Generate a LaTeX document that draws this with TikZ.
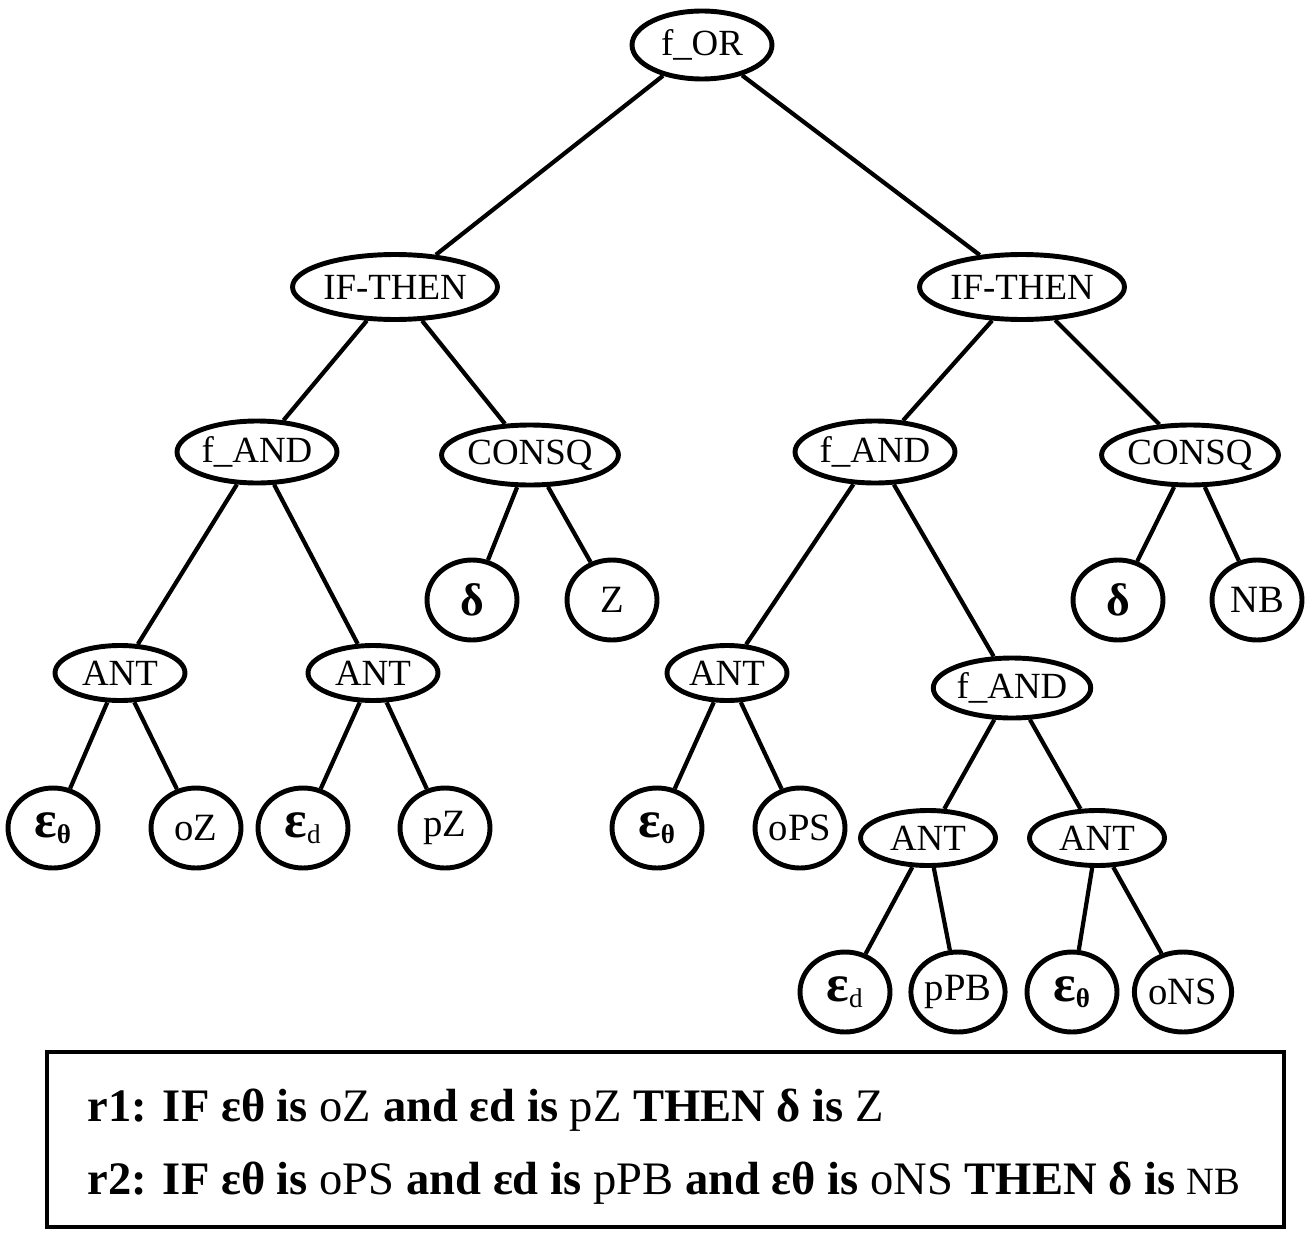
\documentclass[tikz,border=0pt]{standalone}
\usepackage{fontspec}
\setmainfont{Liberation Serif}
\usetikzlibrary{shapes.geometric}
\begin{document}
\begin{tikzpicture}[x=0.02cm,y=-0.02cm,-,draw=black,line width=2.4pt]
    \tikzstyle{every node}=[font=\fontsize{21}{24}\selectfont]
    \tikzstyle{op}=[ellipse,draw,line width=2.8pt,inner sep=0pt,minimum height=1.2cm]
    \tikzstyle{leaf}=[ellipse,draw,line width=2.8pt,inner sep=0pt,minimum width=1.8cm,minimum height=1.6cm,font=\fontsize{22}{24}\selectfont]
    \tikzstyle{rule}=[anchor=west,font=\fontsize{26.5}{30}\selectfont\bfseries]
    \newcommand{\lbl}[1]{{\mdseries #1}}
    \newcommand{\eps}{{\fontsize{30}{30}\selectfont\bfseries ε}}
    \useasboundingbox (0,0) rectangle (1305,1247);

    % Root and rule nodes
    \node[op,minimum width=2.8cm,minimum height=1.36cm] (or) at (702,45) {f\_OR};
    \node[op,minimum width=4.1cm,minimum height=1.3cm] (it-1) at (395,287) {IF-THEN};
    \node[op,minimum width=4.1cm,minimum height=1.3cm] (it-2) at (1022,287) {IF-THEN};

    % Antecedent and consequent nodes
    \node[op,minimum width=3.2cm,minimum height=1.24cm] (and-1) at (257,452) {f\_AND};
    \node[op,minimum width=2.75cm] (cq-1) at (530,455) {CONSQ};
    \node[op,minimum width=3.2cm,minimum height=1.24cm] (and-2) at (875,452) {f\_AND};
    \node[op,minimum width=3.2cm] (cq-2) at (1190,455) {CONSQ};
    \node[op,minimum width=3.15cm] (and-3) at (1012,688) {f\_AND};

    % ANT nodes
    \node[op,minimum width=2.6cm,minimum height=1.1cm] (ant-1) at (120,673) {ANT};
    \node[op,minimum width=2.6cm,minimum height=1.1cm] (ant-2) at (373,673) {ANT};
    \node[op,minimum width=2.4cm,minimum height=1.1cm] (ant-3) at (727,673) {ANT};
    \node[op,minimum width=2.7cm,minimum height=1.1cm] (ant-4) at (928,838) {ANT};
    \node[op,minimum width=2.7cm,minimum height=1.1cm] (ant-5) at (1097,838) {ANT};

    % Leaves
    \node[leaf] (d-1) at (472,600) {\textbf{\fontsize{26}{28}\selectfont δ}};
    \node[leaf] (z-1) at (612,600) {Z};
    \node[leaf] (d-2) at (1118,600) {\textbf{\fontsize{26}{28}\selectfont δ}};
    \node[leaf] (nb-2) at (1257,600) {NB};
    \node[leaf] (e-1) at (53,828) {\eps\textbf{\textsubscript{θ}}};
    \node[leaf] (v-1) at (196,828) {oZ};
    \node[leaf] (e-2) at (303,828) {\eps\textsubscript{d}};
    \node[leaf] (v-2) at (445,828) {pZ};
    \node[leaf] (e-3) at (657,828) {\eps\textbf{\textsubscript{θ}}};
    \node[leaf] (v-3) at (800,828) {oPS};
    \node[leaf] (e-4) at (845,992) {\eps\textsubscript{d}};
    \node[leaf] (v-4) at (958,992) {pPB};
    \node[leaf] (e-5) at (1072,992) {\eps\textbf{\textsubscript{θ}}};
    \node[leaf] (v-5) at (1183,992) {oNS};

    % Connect root to rules
    \foreach \dst in {1,2}
        \draw (or) -- (it-\dst);

    % Connect rules to antecedent and consequent
    \foreach \n in {1,2} {
        \draw (it-\n) -- (and-\n);
        \draw (it-\n) -- (cq-\n);
    }
    \draw (cq-1) -- (d-1);
    \draw (cq-1) -- (z-1);
    \draw (cq-2) -- (d-2);
    \draw (cq-2) -- (nb-2);

    % Connect f_AND to ANT
    \draw (and-1) -- (ant-1);
    \draw (and-1) -- (ant-2);
    \draw (and-2) -- (ant-3);
    \draw (and-2) -- (and-3);
    \draw (and-3) -- (ant-4);
    \draw (and-3) -- (ant-5);

    % Connect ANT to leaves
    \foreach \n in {1,...,5} {
        \draw (ant-\n) -- (e-\n);
        \draw (ant-\n) -- (v-\n);
    }

    % Rule box
    \node[draw,line width=2.4pt,minimum width=24.74cm,minimum height=3.5cm,inner sep=0pt] (box) at (665.5,1139.5) {};
    \node[rule] (r1) at (80,1110) {r1: IF εθ is \lbl{oZ} and εd is \lbl{pZ} THEN δ is \lbl{Z}};
    \node[rule] (r2) at (80,1183) {r2: IF εθ is \lbl{oPS} and εd is \lbl{pPB} and εθ is \lbl{oNS} THEN δ is \lbl{\fontsize{22}{26}\selectfont NB}};

\end{tikzpicture}
\end{document}
